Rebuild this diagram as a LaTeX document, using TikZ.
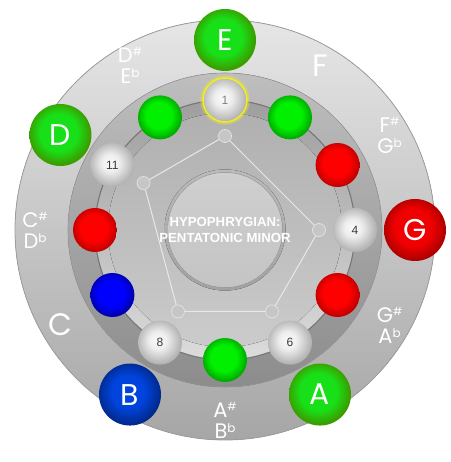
\documentclass[tikz,border=0pt]{standalone}
\usepackage{fontspec}
\setmainfont{Liberation Sans}
\newfontfamily\notefont{Poppins}
\definecolor{ringAt}{HTML}{E6E6E6}
\definecolor{ringAb}{HTML}{A6A6A6}
\definecolor{ringAe}{HTML}{9E9E9E}
\definecolor{ringBt}{HTML}{BEBEBE}
\definecolor{ringBb}{HTML}{8C8C8C}
\definecolor{ringBe}{HTML}{9A9A9A}
\definecolor{wallt}{HTML}{9E9E9E}
\definecolor{wallb}{HTML}{DCDCDC}
\definecolor{floort}{HTML}{B0B0B0}
\definecolor{floorb}{HTML}{CBCBCB}
\definecolor{ringline}{HTML}{777777}
\definecolor{rimt}{HTML}{BABABA}
\definecolor{rimb}{HTML}{A2A2A2}
\definecolor{capt}{HTML}{CFCFCF}
\definecolor{capb}{HTML}{C4C4C4}
\definecolor{capedge}{HTML}{A8A8A8}
\definecolor{pvfill}{HTML}{C6C6C6}
\definecolor{pvdraw}{HTML}{E2E2E2}
\definecolor{pline}{HTML}{E8E8E8}
\definecolor{numgray}{HTML}{3A3A3A}
\definecolor{onegray}{HTML}{808080}
\definecolor{yring}{HTML}{EEEE22}
\definecolor{gIn}{HTML}{00F000}
\definecolor{gOut}{HTML}{00AC00}
\definecolor{GIn}{HTML}{18E018}
\definecolor{GOut}{HTML}{3A9E00}
\definecolor{rIn}{HTML}{FF0000}
\definecolor{rOut}{HTML}{C40000}
\definecolor{RIn}{HTML}{F00000}
\definecolor{ROut}{HTML}{B00000}
\definecolor{bIn}{HTML}{0000FF}
\definecolor{bOut}{HTML}{0000B0}
\definecolor{BIn}{HTML}{0044DD}
\definecolor{BOut}{HTML}{002A90}
\definecolor{wIn}{HTML}{FAFAFA}
\definecolor{wMid}{HTML}{EEEEEE}
\definecolor{wOut}{HTML}{B4B4B4}
\pgfdeclareradialshading{shgreen}{\pgfpoint{-2bp}{3bp}}{color(0bp)=(gIn); color(15bp)=(gIn); color(25bp)=(gOut); color(50bp)=(gOut)}
\pgfdeclareradialshading{shGreen}{\pgfpoint{-2bp}{3bp}}{color(0bp)=(GIn); color(15bp)=(GIn); color(25bp)=(GOut); color(50bp)=(GOut)}
\pgfdeclareradialshading{shred}{\pgfpoint{-2bp}{3bp}}{color(0bp)=(rIn); color(15bp)=(rIn); color(25bp)=(rOut); color(50bp)=(rOut)}
\pgfdeclareradialshading{shRed}{\pgfpoint{-2bp}{3bp}}{color(0bp)=(RIn); color(15bp)=(RIn); color(25bp)=(ROut); color(50bp)=(ROut)}
\pgfdeclareradialshading{shblue}{\pgfpoint{-2bp}{3bp}}{color(0bp)=(bIn); color(15bp)=(bIn); color(25bp)=(bOut); color(50bp)=(bOut)}
\pgfdeclareradialshading{shBlue}{\pgfpoint{-2bp}{3bp}}{color(0bp)=(BIn); color(13bp)=(BIn); color(25bp)=(BOut); color(50bp)=(BOut)}
\pgfdeclareradialshading{shwhite}{\pgfpoint{-3bp}{3bp}}{color(0bp)=(wIn); color(10bp)=(wMid); color(25bp)=(wOut); color(50bp)=(wOut)}
\tikzset{
  bigball/.style={circle, minimum size=62pt, inner sep=0pt, text=white,
    font=\notefont\fontsize{30}{30}\selectfont},
  smallball/.style={circle, minimum size=44pt, inner sep=0pt},
  numball/.style={smallball, shading=shwhite, text=numgray,
    font=\fontsize{12}{12}\selectfont},
  notelabel/.style={text=white, inner sep=0pt, font=\notefont\fontsize{31}{31}\selectfont},
  pairlabel/.style={text=white, inner sep=0pt, align=center,
    font=\notefont\fontsize{21}{21}\selectfont},
  pvert/.style={circle, minimum size=13pt, inner sep=0pt, fill=pvfill, draw=pvdraw, line width=0.8pt},
  pedge/.style={draw=pline, line width=1pt},
}
\newcommand{\shp}{{\fontsize{11}{11}\selectfont\raisebox{7pt}{\#}}}
\newcommand{\flt}{{\fontsize{12}{12}\selectfont\raisebox{6pt}{b}}}
\begin{document}
\begin{tikzpicture}[x=1pt,y=1pt]
\useasboundingbox (-225,-232) rectangle (225,230);
% discs and rings
\fill[top color=ringAt, bottom color=ringAb] (0,0) circle (210);
\draw[ringAe, line width=0.8pt] (0,0) circle (210);
\fill[top color=ringBt, bottom color=ringBb] (0,0) circle (157);
\draw[ringBe, line width=0.6pt] (0,0) circle (157);
\fill[top color=wallt, bottom color=wallb] (0,0) circle (130);
\fill[top color=floort, bottom color=floorb] (0,0) circle (117);
\draw[ringline, line width=1.1pt] (0,0) circle (130);
\fill[top color=rimt, bottom color=rimb] (0,0) circle (60.5);
\fill[top color=capt, bottom color=capb] (0,0) circle (57.5);
\draw[capedge, line width=0.5pt] (0,0) circle (57.5);
% pentagon
\node[pvert] (p0) at (90:94) {};
\node[pvert] (p3) at (0:94) {};
\node[pvert] (p5) at (-60:94) {};
\node[pvert] (p7) at (-120:94) {};
\node[pvert] (p10) at (150:94) {};
\draw[pedge] (p0) -- (p3) -- (p5) -- (p7) -- (p10) -- (p0);
% title
\node[text=white, align=center, font=\bfseries\fontsize{13.2}{16.5}\selectfont] (title) at (0,0) {HYPOPHRYGIAN:\\PENTATONIC MINOR};
% inner balls
\draw[yring, opacity=0.35, line width=3.5pt] (90:130) circle (23);
\node[numball, text=onegray, draw=yring, line width=1.5pt] (i0) at (90:130) {1};
\node[smallball, shading=shgreen] (i1) at (60:130) {};
\node[smallball, shading=shred] (i2) at (30:130) {};
\node[numball] (i3) at (0:130) {4};
\node[smallball, shading=shred] (i4) at (-30:130) {};
\node[numball] (i5) at (-60:130) {6};
\node[smallball, shading=shgreen] (i6) at (-90:130) {};
\node[numball] (i7) at (-120:130) {8};
\node[smallball, shading=shblue] (i8) at (-150:130) {};
\node[smallball, shading=shred] (i9) at (180:130) {};
\node[numball] (i10) at (150:130) {11};
\node[smallball, shading=shgreen] (i11) at (120:130) {};
% outer notes
\node[bigball, shading=shGreen] (oE) at (90:190) {E};
\node[notelabel] (oF) at (60:190) {F};
\node[pairlabel] (oFs) at (30:190) {F\shp\\G\flt};
\node[bigball, shading=shRed] (oG) at (0:190) {G};
\node[pairlabel] (oGs) at (-30:190) {G\shp\\A\flt};
\node[bigball, shading=shGreen] (oA) at (-60:190) {A};
\node[pairlabel] (oAs) at (-90:190) {A\shp\\B\flt};
\node[bigball, shading=shBlue] (oB) at (-120:190) {B};
\node[notelabel] (oC) at (-150:190) {C};
\node[pairlabel] (oCs) at (180:190) {C\shp\\D\flt};
\node[bigball, shading=shGreen] (oD) at (150:190) {D};
\node[pairlabel] (oDs) at (120:190) {D\shp\\E\flt};
\end{tikzpicture}
\end{document}
